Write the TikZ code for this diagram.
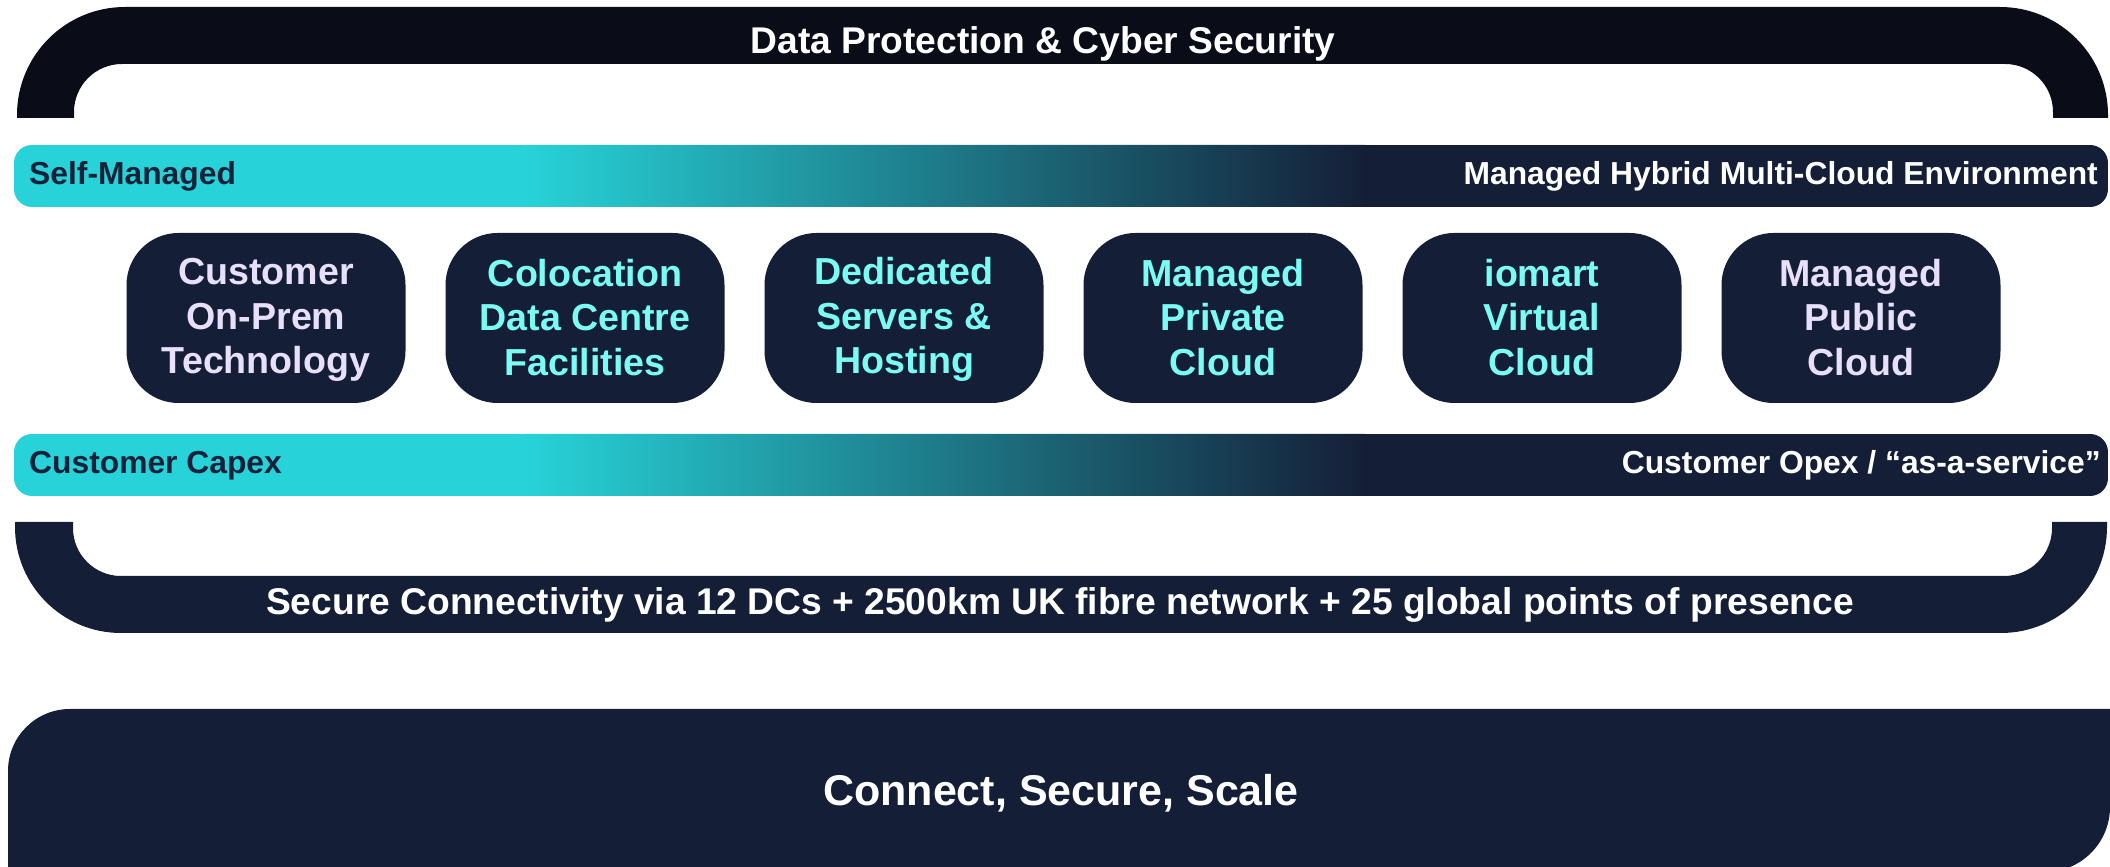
\documentclass[tikz,border=0pt]{standalone}
\usepackage{fontspec}
\setmainfont{Liberation Sans}
\definecolor{navy}{HTML}{141F37}
\definecolor{archdark}{HTML}{0A0D18}
\definecolor{cyanb}{HTML}{27D3D8}
\definecolor{bandtext}{HTML}{17223A}
\definecolor{lavtext}{HTML}{E8E0FA}
\definecolor{cyantext}{HTML}{7AFCF5}
\newcommand{\threel}[3]{\rule{0pt}{30pt}#1\\#2\\#3\rule[-4pt]{0pt}{4pt}}
\tikzset{
  svc/.style={fill=navy, rounded corners=52pt, minimum width=279pt, minimum height=170pt,
    inner sep=0pt, align=center, font=\bfseries\fontsize{37.6}{44.5}\selectfont},
  lav/.style={text=lavtext},
  cyt/.style={text=cyantext},
  bandl/.style={anchor=base west, text=bandtext, inner sep=0pt,
    font=\bfseries\fontsize{31.8}{38}\selectfont},
  bandr/.style={anchor=base east, text=white, inner sep=0pt,
    font=\bfseries\fontsize{31.8}{38}\selectfont},
  big/.style={anchor=base, text=white, inner sep=0pt,
    font=\bfseries\fontsize{37.2}{44}\selectfont},
}
\begin{document}
\begin{tikzpicture}[x=1pt,y=1pt]
\useasboundingbox (0,0) rectangle (2110,867);

% top arch
\fill[archdark] (17,749) -- (17,752) arc[start angle=180,end angle=90,radius=108pt]
  -- (2000,860) arc[start angle=90,end angle=0,radius=108pt]
  -- (2108,749) -- (2053,749) -- (2053,755) arc[start angle=0,end angle=90,radius=48pt]
  -- (122,803) arc[start angle=90,end angle=180,radius=48pt] -- (74,749) -- cycle;
\node[big] (dp) at (1043,813) {Data Protection \& Cyber Security};

% upper gradient band
\begin{scope}
\clip[rounded corners=18pt] (14,660) rectangle (2108,722);
\fill[cyanb] (14,660) rectangle (526,722);
\shade[left color=cyanb, right color=navy] (525,660) rectangle (1365,722);
\fill[navy] (1364,660) rectangle (2108,722);
\end{scope}
\node[bandl] (sm) at (29,682) {Self-Managed};
\node[bandr] (mh) at (2098,682) {Managed Hybrid Multi-Cloud Environment};

% service boxes
\node[svc, lav] (b1) at (266,549) {\threel{Customer}{On-Prem}{Technology}};
\node[svc, cyt] (b2) at (585,549) {\threel{Colocation}{Data Centre}{Facilities}};
\node[svc, cyt] (b3) at (904,549) {\threel{Dedicated}{Servers \&}{Hosting}};
\node[svc, cyt] (b4) at (1223,549) {\threel{Managed}{Private}{Cloud}};
\node[svc, cyt] (b5) at (1542,549) {\threel{iomart}{Virtual}{Cloud}};
\node[svc, lav] (b6) at (1861,549) {\threel{Managed}{Public}{Cloud}};

% lower gradient band
\begin{scope}
\clip[rounded corners=18pt] (14,371) rectangle (2108,433);
\fill[cyanb] (14,371) rectangle (526,433);
\shade[left color=cyanb, right color=navy] (525,371) rectangle (1365,433);
\fill[navy] (1364,371) rectangle (2108,433);
\end{scope}
\node[bandl] (cc) at (29,393) {Customer Capex};
\node[bandr] (co) at (2101,393) {Customer Opex / “as-a-service”};

% bottom U
\fill[navy] (15,345) -- (15,340) arc[start angle=180,end angle=270,radius=106pt]
  -- (2001,234) arc[start angle=270,end angle=360,radius=106pt]
  -- (2107,345) -- (2052,345) -- (2052,339) arc[start angle=0,end angle=-90,radius=48pt]
  -- (121,291) arc[start angle=270,end angle=180,radius=48pt] -- (73,345) -- cycle;
\node[big] (sc) at (1060,252) {Secure Connectivity via 12 DCs + 2500km UK fibre network + 25 global points of presence};

% bottom block
\fill[navy] (8,-10) -- (8,96) arc[start angle=180,end angle=90,radius=62pt]
  -- (2110,158) -- (2110,60) arc[start angle=0,end angle=-90,radius=65pt] -- (8,-5) -- cycle;
\node[big, font=\bfseries\fontsize{43}{50}\selectfont] (css) at (1061,61) {Connect, Secure, Scale};
\end{tikzpicture}
\end{document}
